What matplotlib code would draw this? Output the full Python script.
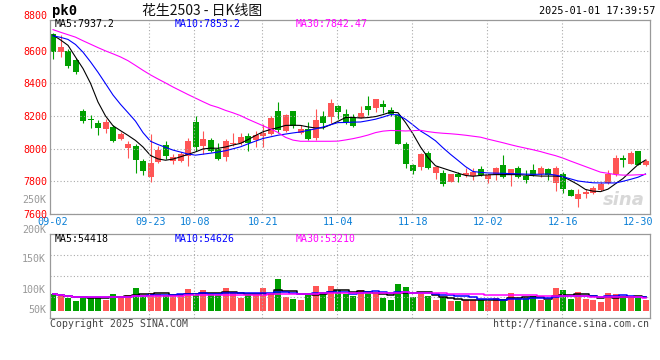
import matplotlib
matplotlib.use("Agg")
import matplotlib.pyplot as plt
import numpy as np
import pandas as pd

#Dates written under the chart and the trading day each one belongs to
date_labels = ["09-02", "09-23", "10-08", "10-21", "11-04", "11-18", "12-02", "12-16", "12-30"]
date_index = [0, 13, 19, 28, 38, 48, 58, 68, 78]

#Daily prices of the peanut contract (pk2503)
opens = [8703, 8591, 8595, 8540, 8230, 8180, 8155, 8118, 8135, 8057,
         8002, 8014, 7922, 7826, 7918, 8020, 7927, 7922, 7955, 8161,
         8014, 8051, 8000, 7951, 8031, 8037, 8075, 8051, 8075, 8092,
         8228, 8108, 8228, 8098, 8122, 8067, 8198, 8193, 8259, 8214,
         8187, 8187, 8259, 8249, 8275, 8234, 8208, 8026, 7898, 7888,
         7971, 7853, 7853, 7796, 7843, 7837, 7831, 7878, 7817, 7837,
         7898, 7837, 7884, 7832, 7867, 7843, 7873, 7792, 7847, 7745,
         7694, 7720, 7731, 7749, 7792, 7843, 7943, 7908, 7984, 7898]
highs = [8710, 8693, 8612, 8554, 8245, 8204, 8177, 8179, 8144, 8100,
         8046, 8026, 7939, 8087, 8014, 8045, 7965, 7979, 8065, 8198,
         8108, 8065, 8037, 8057, 8098, 8096, 8094, 8108, 8150, 8198,
         8283, 8210, 8228, 8143, 8161, 8240, 8228, 8302, 8265, 8245,
         8214, 8259, 8320, 8302, 8295, 8255, 8214, 8041, 7908, 7973,
         7985, 7894, 7871, 7845, 7857, 7882, 7882, 7892, 7847, 7888,
         7959, 7878, 7892, 7867, 7904, 7892, 7884, 7892, 7857, 7751,
         7751, 7751, 7769, 7796, 7871, 7959, 7963, 7985, 7984, 7939]
lows = [8546, 8560, 8493, 8459, 8157, 8126, 8083, 8095, 8039, 8055,
        7943, 7851, 7837, 7796, 7915, 7936, 7904, 7916, 7892, 7985,
        7965, 7977, 7930, 7922, 8016, 8025, 7985, 8008, 8008, 8081,
        8095, 8102, 8126, 8087, 8051, 8055, 8122, 8157, 8179, 8153,
        8132, 8187, 8208, 8224, 8218, 8198, 8031, 7884, 7845, 7867,
        7875, 7812, 7774, 7794, 7798, 7826, 7806, 7832, 7790, 7806,
        7820, 7771, 7822, 7790, 7832, 7826, 7810, 7739, 7731, 7708,
        7643, 7698, 7720, 7741, 7786, 7832, 7888, 7908, 7900, 7894]
closes = [8591, 8621, 8505, 8469, 8169, 8175, 8126, 8163, 8046, 8092,
          8026, 7928, 7863, 7912, 7990, 7955, 7947, 7969, 8045, 8010,
          8057, 7985, 7939, 8049, 8037, 8071, 8034, 8081, 8094, 8187,
          8112, 8204, 8138, 8118, 8057, 8177, 8157, 8277, 8224, 8163,
          8138, 8216, 8234, 8302, 8255, 8214, 8031, 7908, 7861, 7965,
          7881, 7888, 7783, 7843, 7826, 7851, 7859, 7837, 7837, 7880,
          7826, 7873, 7826, 7808, 7837, 7882, 7837, 7882, 7751, 7710,
          7720, 7735, 7759, 7782, 7843, 7943, 7928, 7973, 7902, 7922]
volumes = [66800, 62800, 50800, 40000, 54800, 54800, 54800, 42800, 66800, 58800,
           62800, 90800, 54800, 70800, 66800, 62800, 62800, 58800, 86800, 62800,
           82800, 66800, 62800, 90800, 74800, 50800, 62800, 62800, 90800, 66800,
           126800, 54800, 46800, 42800, 62800, 98800, 74800, 98800, 82800, 66800,
           58800, 82800, 78800, 66800, 50800, 42800, 106800, 94800, 54800, 66800,
           58800, 42800, 54800, 38800, 38800, 42800, 42800, 42800, 38800, 50800,
           46800, 70800, 46800, 50800, 58800, 42800, 42800, 90800, 82800, 46800,
           74800, 46800, 42800, 34800, 70800, 66800, 58800, 50800, 50800, 42800]

#Moving averages of the close as drawn on the chart
ma5 = [8695, 8665, 8632, 8560, 8490, 8400, 8285, 8200, 8140, 8110,
       8081, 8050, 8010, 7958, 7937, 7929, 7936, 7950, 7965, 7980,
       7998, 8003, 8002, 8010, 8022, 8032, 8055, 8080, 8103, 8117,
       8128, 8142, 8143, 8142, 8133, 8126, 8127, 8146, 8167, 8190,
       8191, 8187, 8190, 8196, 8208, 8223, 8220, 8160, 8090, 8010,
       7945, 7895, 7880, 7865, 7850, 7836, 7831, 7836, 7840, 7841,
       7841, 7841, 7841, 7838, 7835, 7832, 7832, 7832, 7828, 7805,
       7780, 7750, 7740, 7737, 7752, 7785, 7817, 7860, 7902, 7930]
ma10 = [8690, 8681, 8668, 8637, 8590, 8531, 8467, 8398, 8328, 8271,
        8220, 8168, 8098, 8045, 8025, 8008, 7991, 7979, 7967, 7960,
        7966, 7972, 7979, 7987, 7999, 8011, 8029, 8046, 8062, 8072,
        8082, 8089, 8096, 8102, 8112, 8121, 8132, 8146, 8159, 8160,
        8162, 8163, 8171, 8180, 8193, 8208, 8207, 8180, 8145, 8108,
        8080, 8048, 8005, 7965, 7928, 7890, 7860, 7855, 7851, 7850,
        7849, 7847, 7846, 7844, 7843, 7843, 7845, 7838, 7828, 7815,
        7802, 7796, 7791, 7790, 7790, 7790, 7800, 7812, 7825, 7845]
ma30 = [8728, 8712, 8697, 8682, 8660, 8639, 8618, 8598, 8580, 8561,
        8538, 8509, 8479, 8451, 8426, 8402, 8377, 8354, 8331, 8309,
        8287, 8266, 8252, 8234, 8219, 8202, 8180, 8160, 8140, 8120,
        8099, 8069, 8052, 8045, 8045, 8045, 8045, 8045, 8046, 8053,
        8061, 8071, 8083, 8098, 8107, 8111, 8110, 8108, 8110, 8112,
        8104, 8098, 8094, 8091, 8087, 8082, 8076, 8070, 8058, 8047,
        8036, 8024, 8013, 8003, 7993, 7982, 7969, 7957, 7942, 7924,
        7907, 7890, 7873, 7856, 7849, 7841, 7838, 7838, 7840, 7842]

price_ticks = [7600, 7800, 8000, 8200, 8400, 8600]
vol_labels = ["250K", "200K", "150K", "100K", "50K"]

RED = "#ff5555"
GREEN = "#00a000"
GRID = "#aaaaaa"
MONO = "DejaVu Sans Mono"

W, H = 660, 360

#Converts a pixel position on the 660x360 picture to figure coordinates
def px(x, y):
    return x / W, 1 - y / H

fig = plt.figure(figsize=(W / 100, H / 100), dpi=100)
ax = fig.add_axes([50 / W, 1 - 214 / H, 600 / W, 194.5 / H])
axv = fig.add_axes([50 / W, 1 - 318.3 / H, 600 / W, 84 / H])

x = np.arange(len(closes))
o = np.array(opens)
h = np.array(highs)
l = np.array(lows)
c = np.array(closes)
colors = np.where(c >= o, RED, GREEN)

#Candles: wicks first, then the bodies on top
ax.vlines(x, l, h, colors=colors, lw=0.8)
ax.bar(x, np.maximum(np.abs(c - o), 5), bottom=np.minimum(o, c), width=0.8, color=colors, lw=0)
ax.plot(x, ma5, color="black", lw=0.8)
ax.plot(x, ma10, color="#0000ff", lw=0.8)
ax.plot(x, ma30, color="#ff00ff", lw=0.8)

ax.set_xlim(-0.4, 79.6)
ax.set_ylim(7600, 8790)
ax.set_yticks(price_ticks)
ax.set_yticklabels([str(t) for t in price_ticks], color="red", fontsize=7.2, family=MONO)
ax.set_xticks(date_index)
ax.set_xticklabels(date_labels, color="#0a7fd6", fontsize=7.3, family=MONO)
ax.tick_params(length=0, pad=2)
ax.grid(axis="y", color=GRID, ls=(0, (1, 2)), lw=0.8)
for i in date_index[1:-1]:
    ax.axvline(i - 0.2, color=GRID, ls=(0, (1, 2)), lw=0.8)

#Volume panel
axv.bar(x, volumes, width=0.8, color=colors, lw=0)
vol = pd.Series(volumes)
axv.step(x, vol.rolling(5, min_periods=1).mean(), where="mid", color="black", lw=1.1)
axv.step(x, vol.rolling(10, min_periods=1).mean(), where="mid", color="#0000ff", lw=1.1)
axv.step(x, vol.rolling(30, min_periods=1).mean(), where="mid", color="#ff00ff", lw=1.1)
axv.set_xlim(-0.4, 79.6)
vlo, vhi = -30400, 305600
axv.set_ylim(vlo, vhi)
axv.set_yticks(np.linspace(vlo, vhi, 5)[1:-1])
axv.set_yticklabels([])
axv.set_xticks([])
axv.tick_params(length=0)
axv.grid(axis="y", color=GRID, ls=(0, (1, 2)), lw=0.8)
for i in date_index[1:-1]:
    axv.axvline(i - 0.2, color=GRID, ls=(0, (1, 2)), lw=0.8)

for a in (ax, axv):
    for s in a.spines.values():
        s.set_color("#999999")
        s.set_linewidth(0.9)

#Header texts
fig.text(*px(47, 16), "8800", color="red", fontsize=7.2, family=MONO, ha="right", va="center")
fig.text(*px(52, 11), "pk0", color="black", fontsize=10, family=MONO, weight="bold", ha="left", va="center")
fig.text(*px(142, 11), "花生2503 - 日K线图", color="#111111", fontsize=10,
         family=["Noto Sans CJK SC", "DejaVu Sans"], ha="left", va="center")
fig.text(*px(655, 11), "2025-01-01 17:39:57", color="black", fontsize=7.3, family=MONO, ha="right", va="center")

fig.text(*px(55, 24), "MA5:%.1f" % 7937.2, color="black", fontsize=7.1, family=MONO, va="center")
fig.text(*px(175, 24), "MA10:%.1f" % 7853.2, color="#0000ff", fontsize=7.1, family=MONO, va="center")
fig.text(*px(296, 24), "MA30:%.2f" % 7842.47, color="#ff00ff", fontsize=7.1, family=MONO, va="center")

fig.text(*px(55, 238.5), "MA5:54418", color="black", fontsize=7.1, family=MONO, va="center")
fig.text(*px(175, 238.5), "MA10:54626", color="#0000ff", fontsize=7.1, family=MONO, va="center")
fig.text(*px(296, 238.5), "MA30:53210", color="#ff00ff", fontsize=7.1, family=MONO, va="center")

#Volume scale labels, drawn where the original puts them
for lab, yy in zip(vol_labels, [200, 230.5, 259.5, 290, 310]):
    fig.text(*px(46, yy), lab, color="#999999", fontsize=7.2, family=MONO, ha="right", va="center")

fig.text(*px(50, 324), "Copyright 2025 SINA.COM", color="#444444", fontsize=7.1, family=MONO, va="center")
fig.text(*px(649, 324), "http://finance.sina.com.cn", color="#444444", fontsize=7.1, family=MONO, ha="right", va="center")
fig.text(*px(624, 200), "sina", color="#d8d8d8", fontsize=13, weight="bold", style="italic",
         ha="center", va="center")

fig.savefig("out.png", dpi=100)
